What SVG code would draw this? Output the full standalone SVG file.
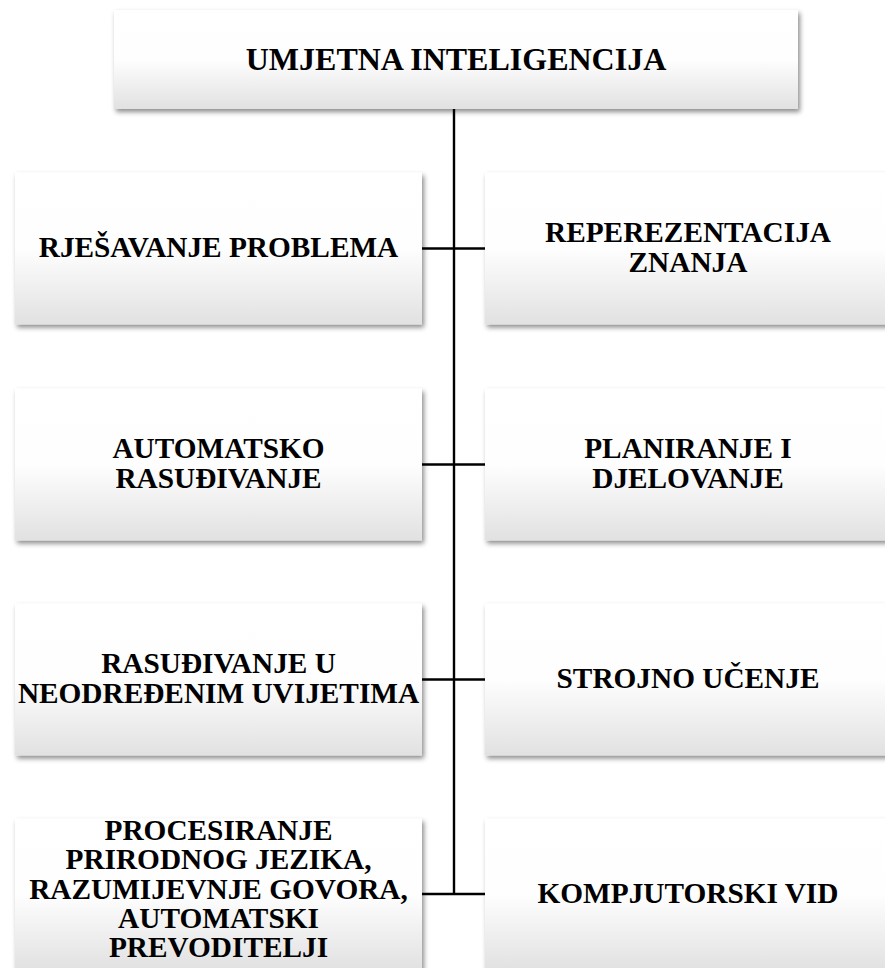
<svg xmlns="http://www.w3.org/2000/svg" width="885" height="968" viewBox="0 0 885 968">
<defs>
<linearGradient id="g" x1="0" y1="0" x2="0" y2="1">
<stop offset="0" stop-color="#ffffff"/>
<stop offset="0.5" stop-color="#fefefe"/>
<stop offset="1" stop-color="#e1e1e1"/>
</linearGradient>
<filter id="sh" x="-5%" y="-10%" width="115%" height="125%">
<feDropShadow dx="2" dy="3" stdDeviation="2.5" flood-color="#000" flood-opacity="0.45"/>
</filter>
</defs>
<style>
.box{fill:url(#g);filter:url(#sh);}
.t{font-family:"Liberation Serif","Times New Roman",serif;font-weight:bold;font-size:29.3px;fill:#000;text-anchor:middle;}
.top{font-size:32px;}
.c{stroke:#000;stroke-width:2.4;fill:none;}
</style>
<rect width="885" height="968" fill="#ffffff"/>
<g id="connectors">
<line class="c" x1="454" y1="109" x2="454" y2="895"/>
<line class="c" x1="422" y1="248.5" x2="485" y2="248.5"/>
<line class="c" x1="422" y1="464.5" x2="485" y2="464.5"/>
<line class="c" x1="422" y1="679.5" x2="485" y2="679.5"/>
<line class="c" x1="422" y1="894" x2="485" y2="894"/>
</g>
<g id="n0">
<rect class="box" x="114" y="10" width="684" height="99"/>
<text class="t top" x="456" y="70">UMJETNA INTELIGENCIJA</text>
</g>
<g id="n1">
<rect class="box" x="15" y="172.5" width="407" height="152"/>
<text class="t" x="218.5" y="257">RJEŠAVANJE PROBLEMA</text>
</g>
<g id="n2">
<rect class="box" x="485" y="172.5" width="406" height="152"/>
<text class="t" x="688" y="242">REPEREZENTACIJA</text>
<text class="t" x="688" y="272">ZNANJA</text>
</g>
<g id="n3">
<rect class="box" x="15" y="388.5" width="407" height="152"/>
<text class="t" x="218.5" y="458">AUTOMATSKO</text>
<text class="t" x="218.5" y="488">RASUĐIVANJE</text>
</g>
<g id="n4">
<rect class="box" x="485" y="388.5" width="406" height="152"/>
<text class="t" x="688" y="458">PLANIRANJE I</text>
<text class="t" x="688" y="488">DJELOVANJE</text>
</g>
<g id="n5">
<rect class="box" x="15" y="603.5" width="407" height="152"/>
<text class="t" x="218.5" y="672.5">RASUĐIVANJE U</text>
<text class="t" x="218.5" y="703">NEODREĐENIM UVIJETIMA</text>
</g>
<g id="n6">
<rect class="box" x="485" y="603.5" width="406" height="152"/>
<text class="t" x="688" y="688">STROJNO UČENJE</text>
</g>
<g id="n7">
<rect class="box" x="15" y="818.5" width="407" height="152"/>
<text class="t" x="218.5" y="840">PROCESIRANJE</text>
<text class="t" x="218.5" y="869.3">PRIRODNOG JEZIKA,</text>
<text class="t" x="218.5" y="898.6">RAZUMIJEVNJE GOVORA,</text>
<text class="t" x="218.5" y="928">AUTOMATSKI</text>
<text class="t" x="218.5" y="957.3">PREVODITELJI</text>
</g>
<g id="n8">
<rect class="box" x="485" y="818.5" width="406" height="152"/>
<text class="t" x="688" y="903">KOMPJUTORSKI VID</text>
</g>
</svg>
